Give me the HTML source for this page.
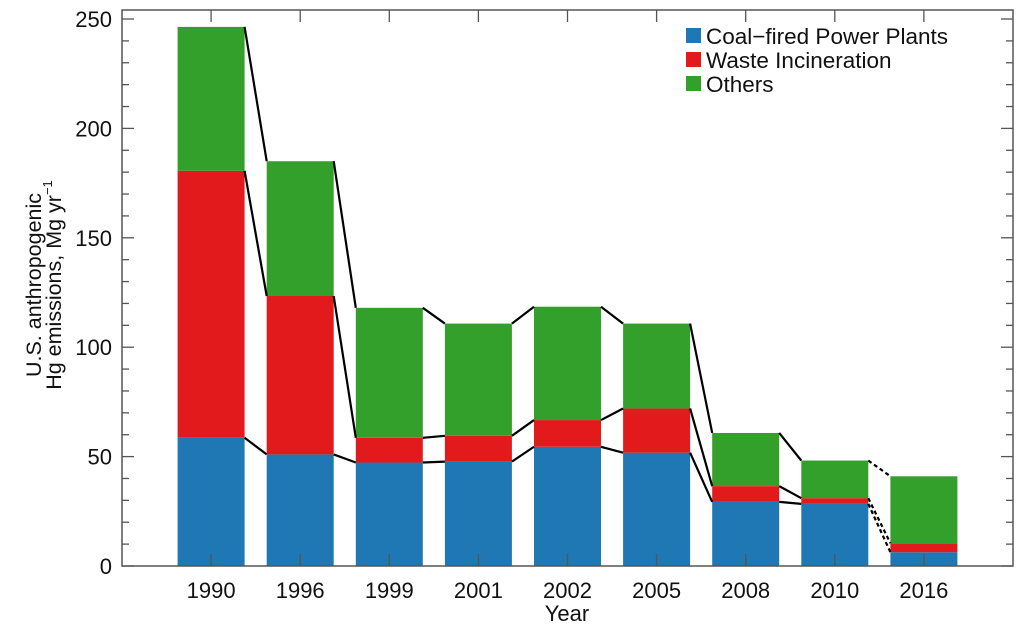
<!DOCTYPE html>
<html><head><meta charset="utf-8"><style>
body{margin:0;background:#fff}
svg text{font-family:"Liberation Sans",sans-serif;fill:#111}
</style></head><body>
<svg id="chart" width="1024" height="636" viewBox="0 0 1024 636" xmlns="http://www.w3.org/2000/svg">
<g id="marks"></g>
<g id="axes"></g>
<g>
<rect x="686" y="28" width="15" height="15" fill="#1f77b4"/>
<text x="706" y="44" font-size="22.5">Coal−fired Power Plants</text>
<rect x="686" y="52" width="15" height="15" fill="#e31a1c"/>
<text x="706" y="68" font-size="22.5">Waste Incineration</text>
<rect x="686" y="76" width="15" height="15" fill="#33a02c"/>
<text x="706" y="92" font-size="22.5">Others</text>
</g>
<g transform="translate(41,285) rotate(-90)">
<text x="0" y="0" font-size="21.5" text-anchor="middle">U.S. anthropogenic</text>
<text x="0" y="20" font-size="21.5" text-anchor="middle">Hg emissions, Mg yr<tspan font-size="13" dy="-9">−1</tspan></text>
</g>
<text x="567" y="621" font-size="22" text-anchor="middle">Year</text>
</svg>
<script>
const years=["1990","1996","1999","2001","2002","2005","2008","2010","2016"];
const coal=[58.6,51,47.3,47.7,54.5,51.8,29.3,28.4,6.3];
const waste=[122,72.4,11.3,11.8,12.2,20.2,7.2,2.6,4.1];
const others=[65.8,61.6,59.4,51.3,51.8,38.8,24.3,17.2,30.6];
const yTicks=[0,50,100,150,200,250];

const L=122,R=1013,T=10,B=566,NS='http://www.w3.org/2000/svg';
const slot=(R-L)/10, bw=67;
const xc=i=>L+slot*(i+1);
const y=v=>B-v*(B-T-9)/250;
const marks=document.getElementById('marks'),axes=document.getElementById('axes');
function mk(tag,attrs,parent){const e=document.createElementNS(NS,tag);for(const k in attrs)e.setAttribute(k,attrs[k]);parent.appendChild(e);return e;}
const series=[[coal,'#1f77b4','coal'],[waste,'#e31a1c','waste'],[others,'#33a02c','others']];
const levels=years.map(()=>[]);
years.forEach((yr,i)=>{
  let base=0;
  series.forEach(([arr,col,nm])=>{
    const top=base+arr[i];
    const r=mk('rect',{x:xc(i)-bw/2,y:y(top),width:bw,height:y(base)-y(top),fill:col},marks);
    
    
    base=top;levels[i].push(top);
  });
});
for(let i=0;i<years.length-1;i++){
  for(let k=0;k<3;k++){
    const l=mk('line',{x1:xc(i)+bw/2,y1:y(levels[i][k]),x2:xc(i+1)-bw/2,y2:y(levels[i+1][k]),stroke:'#000','stroke-width':2.2},marks);
    if(i===years.length-2)l.setAttribute('stroke-dasharray','4,3');
    
    
  }
}
const f=mk('rect',{x:L,y:T,width:R-L,height:B-T,fill:'none',stroke:'#555','stroke-width':1.5},axes);


for(let v=0;v<=250;v+=10){
  const len=v%50===0?12:7;
  mk('line',{x1:L,y1:y(v),x2:L+len,y2:y(v),stroke:'#555','stroke-width':1.3},axes);
  mk('line',{x1:R,y1:y(v),x2:R-len,y2:y(v),stroke:'#555','stroke-width':1.3},axes);
}
yTicks.forEach(v=>{
  const t=mk('text',{x:L-10,y:y(v)+8,'font-size':22,'text-anchor':'end'},axes);
  t.textContent=v;
  
  
});
years.forEach((yr,i)=>{
  mk('line',{x1:xc(i),y1:T,x2:xc(i),y2:T+12,stroke:'#555','stroke-width':1.3},axes);
  mk('line',{x1:xc(i),y1:B,x2:xc(i),y2:B-12,stroke:'#555','stroke-width':1.3},axes);
  const t=mk('text',{x:xc(i),y:598,'font-size':22,'text-anchor':'middle'},axes);
  t.textContent=yr;
  
  
});
</script>
</body></html>
